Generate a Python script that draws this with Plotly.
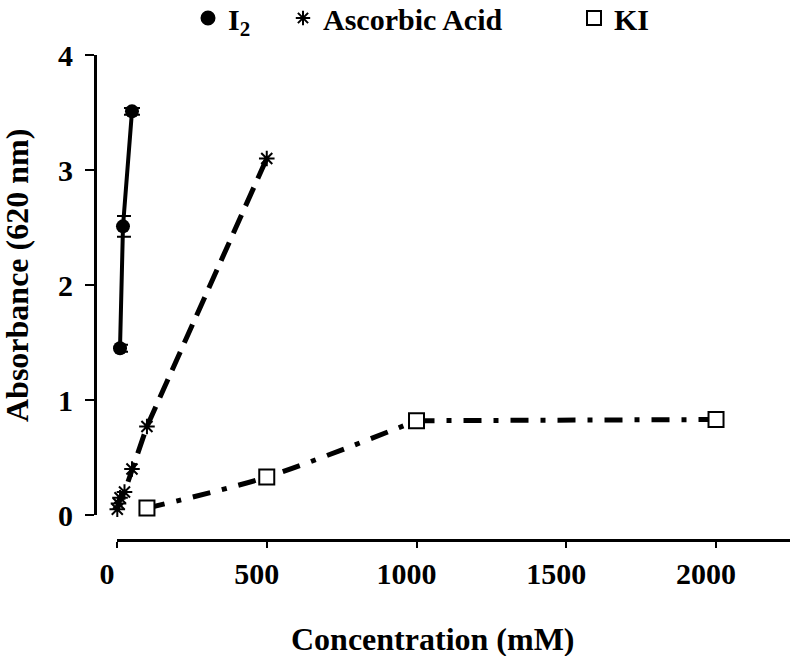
import plotly.graph_objects as go

# data
i2_x = [10, 20, 50]
i2_y = [1.45, 2.51, 3.51]
i2_err = [0.03, 0.09, 0.03]

aa_x = [1, 5, 10, 25, 50, 100, 500]
aa_y = [0.05, 0.1, 0.15, 0.2, 0.4, 0.77, 3.1]

ki_x = [100, 500, 1000, 2000]
ki_y = [0.06, 0.33, 0.82, 0.83]

x_ticks = [0, 500, 1000, 1500, 2000]
y_ticks = [0, 1, 2, 3, 4]

SERIF = "Liberation Serif, Times New Roman, serif"
W, H = 792, 656
ML, MR, MT, MB = 95, 2, 55, H - 540
PW, PH = W - ML - MR, H - MT - MB


def px_x(sx):
    # screen x -> paper x
    return (sx - ML) / PW


def px_y(sy):
    # screen y -> paper y
    return (H - MB - sy) / PH


fig = go.Figure()

# I2
fig.add_trace(go.Scatter(
    x=i2_x, y=i2_y, mode="lines+markers", showlegend=False,
    line=dict(color="black", width=4),
    marker=dict(symbol="circle", size=14, color="black"),
    error_y=dict(type="data", array=i2_err, color="black", thickness=2, width=8),
    cliponaxis=False,
))

# Ascorbic acid
fig.add_trace(go.Scatter(
    x=aa_x, y=aa_y, mode="lines+markers", showlegend=False,
    line=dict(color="black", width=5, dash="20px,10px"),
    marker=dict(symbol="asterisk-open", size=13, color="black",
                line=dict(color="black", width=2)),
    cliponaxis=False,
))

# KI: curved part up to 1000, then a flat straight run to 2000
fig.add_trace(go.Scatter(
    x=ki_x[:3], y=ki_y[:3], mode="lines", showlegend=False,
    line=dict(color="black", width=5, dash="18px,12px,5px,12px",
              shape="spline", smoothing=0.8),
    cliponaxis=False,
))
fig.add_trace(go.Scatter(
    x=ki_x[2:], y=ki_y[2:], mode="lines", showlegend=False,
    line=dict(color="black", width=5, dash="18px,12px,5px,12px"),
    cliponaxis=False,
))
fig.add_trace(go.Scatter(
    x=ki_x, y=ki_y, mode="markers", showlegend=False,
    marker=dict(symbol="square", size=15, color="white",
                line=dict(color="black", width=2)),
    cliponaxis=False,
))

# legend-only entries, one legend each so they can sit where the reference has them
legend_items = [
    ("I<sub>2</sub>", "circle", 13, "black", "legend"),
    ("Ascorbic Acid", "asterisk-open", 12, "black", "legend2"),
    ("KI", "square", 14, "white", "legend3"),
]
for name, sym, sz, col, lg in legend_items:
    fig.add_trace(go.Scatter(
        x=[None], y=[None], mode="markers", name=name, legend=lg,
        marker=dict(symbol=sym, size=sz, color=col, line=dict(color="black", width=2)),
    ))

leg_font = dict(family=SERIF, size=30, color="black", weight="bold")


def leg_pos(screen_left):
    return dict(x=screen_left / W, y=1 - 18 / H, xref="container", yref="container",
                xanchor="left", yanchor="middle", font=leg_font,
                bgcolor="rgba(0,0,0,0)", itemwidth=30, orientation="h")


tick_font = dict(family=SERIF, size=30, color="black", weight="bold")
title_font = dict(family=SERIF, size=32, color="black", weight="bold")

fig.update_layout(
    width=W, height=H,
    margin=dict(l=ML, r=MR, t=MT, b=MB, autoexpand=False),
    plot_bgcolor="white", paper_bgcolor="white",
    legend=leg_pos(188),
    legend2=leg_pos(283),
    legend3=leg_pos(574),
    xaxis=dict(
        range=[0, 2247], domain=[px_x(117), 1], anchor="free", position=0,
        tickvals=x_ticks, ticks="outside", ticklen=6, tickwidth=2, tickcolor="black",
        showline=True, linewidth=3, linecolor="black", automargin=False,
        showgrid=False, zeroline=False, tickfont=tick_font,
        ticklabelstandoff=0, ticklabelshift=-10,
    ),
    yaxis=dict(
        range=[0, 4], domain=[px_y(515), 1], anchor="free", position=0,
        tickvals=y_ticks, ticks="outside", ticklen=9, tickwidth=2, tickcolor="black",
        showline=True, linewidth=3, linecolor="black", automargin=False,
        showgrid=False, zeroline=False, tickfont=tick_font, ticklabelstandoff=6,
    ),
    annotations=[
        dict(text="Concentration (mM)", xref="paper", yref="paper",
             x=px_x(432), y=px_y(639), xanchor="center", yanchor="middle",
             showarrow=False, font=title_font),
        dict(text="Absorbance (620 nm)", xref="paper", yref="paper",
             x=px_x(17), y=px_y(276), xanchor="center", yanchor="middle",
             textangle=-90, showarrow=False, font=title_font),
    ],
)

# drop the default 8px body margin so the figure fills the window exactly
fig.write_html("out.html", config={"displayModeBar": False},
               post_script="document.body.style.margin = '0';")
